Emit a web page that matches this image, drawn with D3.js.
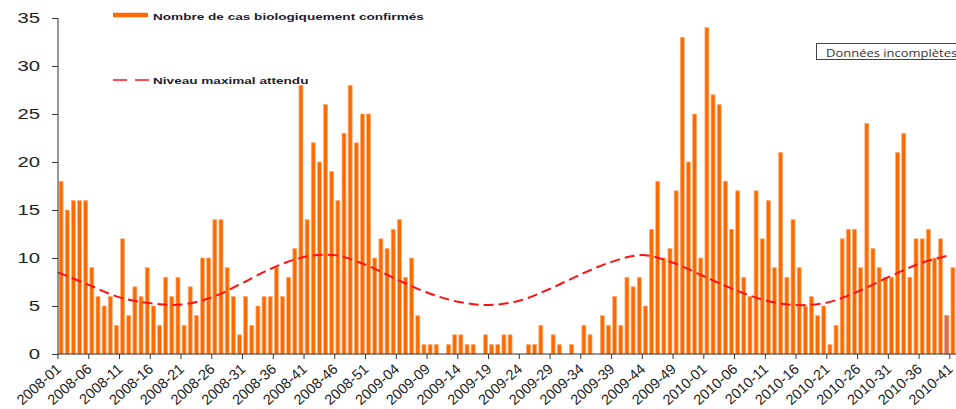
<!DOCTYPE html>
<html>
<head>
<meta charset="utf-8">
<script src="https://cdn.jsdelivr.net/npm/d3@7"></script>
<style>
  body { margin: 0; background: #fff; }
  svg { display: block; }
</style>
</head>
<body>
<div id="chart"></div>
<script>
// weekly surveillance chart, 2008-01 .. 2010-41

const years = [2008, 2009, 2010];
const weeksPerYear = [52, 53, 41];

// confirmed cases per week, in order
const cases2008 = [18, 15, 16, 16, 16, 9, 6, 5, 6, 3, 12, 4, 7, 6, 9, 5, 3, 8, 6, 8,
  3, 7, 4, 10, 10, 14, 14, 9, 6, 2, 6, 3, 5, 6, 6, 9, 6, 8, 11, 28,
  14, 22, 20, 26, 19, 16, 23, 28, 22, 25, 25, 10];
const cases2009 = [12, 11, 13, 14, 8, 10, 4, 1, 1, 1, 0, 1, 2, 2, 1, 1, 0, 2, 1, 1,
  2, 2, 0, 0, 1, 1, 3, 0, 2, 1, 0, 1, 0, 3, 2, 0, 4, 3, 6, 3,
  8, 7, 8, 5, 13, 18, 10, 11, 17, 33, 20, 25, 10];
const cases2010 = [34, 27, 26, 18, 13, 17, 8, 6, 17, 12, 16, 9, 21, 8, 14, 9, 5, 6, 4, 5,
  1, 3, 12, 13, 13, 9, 24, 11, 9, 8, 8, 21, 23, 8, 12, 12, 13, 10, 12, 4, 9];

const tickWeeks = ["2008-01", "2008-06", "2008-11", "2008-16", "2008-21", "2008-26",
  "2008-31", "2008-36", "2008-41", "2008-46", "2008-51", "2009-04", "2009-09",
  "2009-14", "2009-19", "2009-24", "2009-29", "2009-34", "2009-39", "2009-44",
  "2009-49", "2010-01", "2010-06", "2010-11", "2010-16", "2010-21", "2010-26",
  "2010-31", "2010-36", "2010-41"];

// "niveau maximal attendu", read at each tick week
const expectedLevel = [8.5, 7.2, 5.9, 5.3, 5.15, 5.9, 7.4, 9.0, 10.1, 10.3,
  9.3, 7.8, 6.4, 5.45, 5.1, 5.55, 6.8, 8.3, 9.6, 10.3,
  9.5, 8.1, 6.7, 5.6, 5.1, 5.35, 6.5, 8.0, 9.4, 10.3];

const yTicks = [0, 5, 10, 15, 20, 25, 30, 35];
const incompleteWeeks = ["2010-40"];

const W = 956, H = 409;
const plotLeft = 58, plotRight = 956, plotTop = 18, plotBottom = 354;
const stretch = 1.4; // the source picture is squashed wide

var weeks = [];
years.forEach(function(yr, k) {
  for (var w = 1; w <= weeksPerYear[k]; w++) {
    weeks.push(yr + "-" + (w < 10 ? "0" + w : w));
  }
});
var cases = cases2008.concat(cases2009, cases2010);
var data = weeks.map(function(w, i) { return { week: w, n: cases[i] }; });

var svg = d3.select("#chart").append("svg")
  .attr("width", W)
  .attr("height", H);

var x = d3.scaleBand()
  .domain(weeks)
  .range([plotLeft, plotRight])
  .paddingInner(0.35)
  .paddingOuter(0.175);

var y = d3.scaleLinear().domain([0, 35]).range([plotBottom, plotTop]);

var slotStart = function(w) { return x(w) - x.step() * 0.175; };

// bars
svg.append("g")
  .selectAll("rect")
  .data(data)
  .enter()
  .append("rect")
  .attr("x", function(d) { return x(d.week); })
  .attr("y", function(d) { return y(d.n); })
  .attr("width", x.bandwidth())
  .attr("height", function(d) { return y(0) - y(d.n); })
  .style("fill", function(d) { return incompleteWeeks.indexOf(d.week) >= 0 ? "#e8702c" : "#ff6a00"; })
  .style("stroke", function(d) { return incompleteWeeks.indexOf(d.week) >= 0 ? "#d87f8c" : "#ffb07a"; })
  .style("stroke-width", 0.7);

// expected level
var line = d3.line()
  .x(function(d) { return slotStart(d[0]); })
  .y(function(d) { return y(d[1]); })
  .curve(d3.curveCatmullRom.alpha(0.5));

svg.append("path")
  .datum(tickWeeks.map(function(w, i) { return [w, expectedLevel[i]]; }))
  .attr("d", line)
  .style("fill", "none")
  .style("stroke", "#ff1010")
  .style("stroke-width", 2)
  .style("stroke-dasharray", "10,5");

// y axis
var yAxis = svg.append("g")
  .attr("transform", "translate(" + plotLeft + ",0)")
  .call(d3.axisLeft(y).tickValues(yTicks).tickSize(6).tickPadding(0));
yAxis.select(".domain").attr("d", "M0," + plotTop + "V" + plotBottom).style("stroke", "#333");
yAxis.selectAll(".tick line").style("stroke", "#333");
yAxis.selectAll(".tick text")
  .attr("x", -18 / stretch)
  .attr("transform", "scale(" + stretch + ",1)")
  .style("font-family", "'Liberation Sans', Arial, sans-serif")
  .style("font-size", "14.5px")
  .style("fill", "#222");

// x axis, ticks on week boundaries
var xAxis = svg.append("g")
  .attr("transform", "translate(0," + plotBottom + ")")
  .call(d3.axisBottom(x).tickValues(tickWeeks).tickSize(5).tickSizeOuter(0));
xAxis.select(".domain").attr("d", "M" + plotLeft + ",0H" + plotRight).style("stroke", "#333");
xAxis.selectAll(".tick")
  .attr("transform", function(d) { return "translate(" + slotStart(d) + ",0)"; });
xAxis.selectAll(".tick line").style("stroke", "#333");
xAxis.selectAll(".tick text")
  .attr("x", 0).attr("y", 0).attr("dy", "0.3em")
  .attr("transform", "translate(1,13) rotate(-42)")
  .style("text-anchor", "end")
  .style("font-family", "'Liberation Sans', Arial, sans-serif")
  .style("font-size", "14.5px")
  .style("fill", "#222");

// legend
var legend = svg.append("g").attr("class", "legend");
legend.append("line")
  .attr("x1", 113).attr("x2", 148).attr("y1", 15).attr("y2", 15)
  .style("stroke", "#ff6a00").style("stroke-width", 4.5);
legend.append("line")
  .attr("x1", 113).attr("x2", 149).attr("y1", 80).attr("y2", 80)
  .style("stroke", "#ff1010").style("stroke-width", 1.6).style("stroke-dasharray", "14,8");
legend.append("text")
  .attr("transform", "translate(153,19.5) scale(" + stretch + ",1)")
  .text("Nombre de cas biologiquement confirmés");
legend.append("text")
  .attr("transform", "translate(153,83.5) scale(" + stretch + ",1)")
  .text("Niveau maximal attendu");
legend.selectAll("text")
  .style("font-family", "'Liberation Sans', Arial, sans-serif")
  .style("font-weight", "bold")
  .style("font-size", "9.7px")
  .style("fill", "#1c1c30");

// note box
var note = svg.append("g");
note.append("rect")
  .attr("x", 816.5).attr("y", 43.5).attr("width", 160).attr("height", 16)
  .style("fill", "#fff").style("stroke", "#444");
note.append("text")
  .attr("transform", "translate(826,56.5) scale(1.3,1)")
  .text("Données incomplètes")
  .style("font-family", "'Open Sans', sans-serif")
  .style("font-size", "10px")
  .style("fill", "#333");
</script>
</body>
</html>
